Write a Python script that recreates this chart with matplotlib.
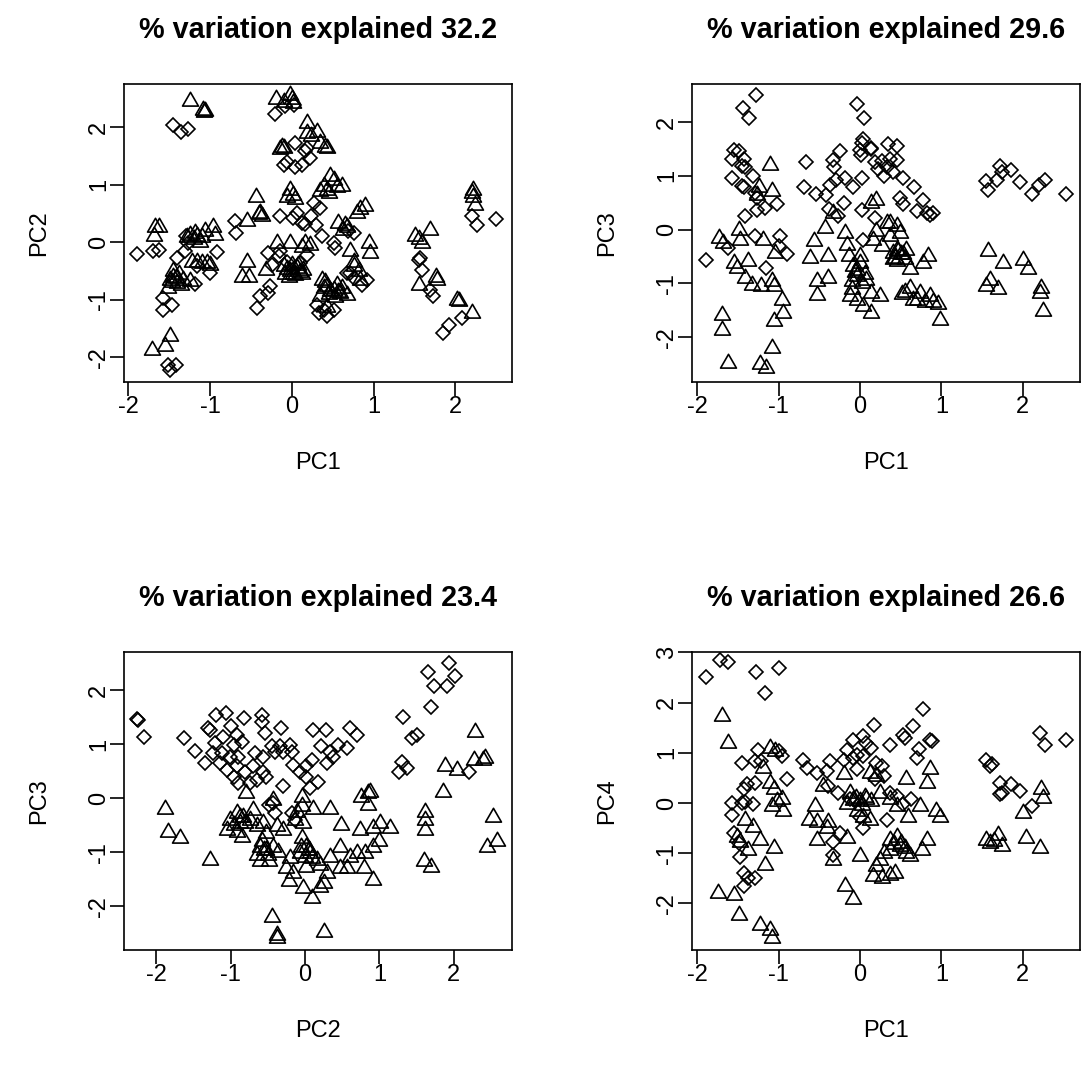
import numpy as np
import matplotlib.pyplot as plt
from matplotlib.path import Path

plt.rcParams['font.family'] = ['Liberation Sans', 'DejaVu Sans']
plt.rcParams['axes.unicode_minus'] = False

titles = ['% variation explained 32.2', '% variation explained 29.6',
          '% variation explained 23.4', '% variation explained 26.6']
x_labels = ['PC1', 'PC1', 'PC2', 'PC1']
y_labels = ['PC2', 'PC3', 'PC3', 'PC4']

# PC1 vs PC2
p1_tri = [(-1.25, 2.46), (-1.09, 2.29), (-1.08, 2.26), (-1.06, 2.27),
          (-0.19, 2.48), (-0.02, 2.56), (0.00, 2.48), (-0.10, 2.43), (0.02, 2.41),
          (0.18, 2.07), (0.31, 1.92), (0.18, 1.90), (0.43, 1.63), (0.35, 1.72), (-0.12, 1.66),
          (-0.15, 1.61), (-0.10, 1.63), (0.24, 1.85), (0.40, 1.66),
          (0.47, 1.14), (0.39, 0.97), (0.35, 0.88), (0.61, 0.97), (0.51, 1.08), (0.45, 0.85),
          (-0.02, 0.91), (-0.06, 0.79), (0.02, 0.82), (0.04, 0.74), (0.43, 0.90), (0.55, 0.95),
          (-0.44, 0.78), (-0.55, 0.36), (-0.39, 0.50), (-0.37, 0.45), (-0.40, 0.48),
          (0.84, 0.57), (0.90, 0.62), (0.80, 0.50), (0.56, 0.33), (0.67, 0.27), (0.63, 0.21), (0.65, 0.30),
          (2.22, 0.91), (2.22, 0.79), (2.24, 0.65), (2.21, 0.85),
          (-1.67, 0.27), (-1.62, 0.27), (-1.69, 0.10),
          (-1.24, 0.13), (-1.16, 0.10), (-1.06, 0.19), (-0.96, 0.27), (-0.94, 0.13), (-1.12, 0.01),
          (-1.20, 0.05), (-1.10, 0.08), (-1.28, 0.08), (-1.18, 0.15),
          (-1.22, -0.34), (-1.16, -0.34), (-1.10, -0.37), (-1.04, -0.37), (-1.00, -0.39),
          (-1.45, -0.51), (-1.49, -0.66), (-1.41, -0.71), (-1.33, -0.66), (-1.24, -0.68), (-1.51, -0.80),
          (-1.45, -0.60), (-1.38, -0.55), (-1.42, -0.62), (-1.36, -0.74), (-1.47, -0.70),
          (-1.49, -1.64), (-1.55, -1.81), (-1.71, -1.87),
          (-0.55, -0.35), (-0.61, -0.60), (-0.53, -0.60), (-0.31, -0.48),
          (-0.18, -0.02), (-0.02, -0.02), (0.16, -0.02), (0.12, -0.08), (0.22, -0.05),
          (-0.10, -0.42), (-0.02, -0.51), (0.06, -0.45), (0.14, -0.48), (-0.04, -0.60), (0.02, -0.55),
          (0.10, -0.52), (0.00, -0.40), (-0.06, -0.47), (0.04, -0.58), (0.08, -0.40), (-0.08, -0.55),
          (0.12, -0.56),
          (0.71, -0.16), (0.76, -0.34), (0.94, -0.01), (0.96, -0.19), (0.82, -0.51), (0.84, -0.66),
          (0.37, -0.66), (0.43, -0.77), (0.51, -0.83), (0.59, -0.89), (0.67, -0.92), (0.35, -0.94),
          (0.43, -1.12), (0.55, -0.74), (0.47, -0.85), (0.39, -0.80), (0.61, -0.80), (0.76, -0.42),
          (0.45, -0.90), (0.53, -0.95), (0.41, -0.70), (0.57, -0.86),
          (1.51, 0.10), (1.59, -0.01), (1.69, 0.21), (1.55, 0.05),
          (1.55, -0.74), (1.76, -0.60), (1.78, -0.66),
          (2.02, -1.00), (2.04, -1.03), (2.20, -1.23)]
p1_dia = [(-1.45, 2.03), (-1.36, 1.92), (-1.27, 1.97),
          (-0.20, 2.23), (-0.08, 2.36), (0.03, 2.38),
          (0.04, 1.73), (0.16, 1.58), (0.22, 1.46), (-0.06, 1.40), (0.04, 1.30), (-0.10, 1.34),
          (0.13, 1.34), (0.18, 1.63),
          (0.27, 0.68), (0.35, 0.59), (0.24, 0.45), (-0.15, 0.45), (0.06, 0.50), (0.12, 0.33),
          (0.02, 0.42), (0.29, 0.30), (0.16, 0.32),
          (-0.69, 0.36), (-0.68, 0.16), (0.76, 0.16), (0.69, 0.19),
          (2.20, 0.45), (2.26, 0.29), (2.50, 0.40),
          (-1.90, -0.20), (-1.70, -0.16), (-1.63, -0.14),
          (-1.29, 0.10), (-1.27, -0.02), (-0.92, -0.18), (-1.40, -0.28), (-1.31, -0.16),
          (-1.00, -0.54), (-1.16, -0.42),
          (-1.18, -0.72), (-1.58, -0.97), (-1.47, -1.09), (-1.57, -1.18),
          (-1.51, -2.13), (-1.42, -2.13), (-1.49, -2.22),
          (-0.29, -0.19), (-0.16, -0.25), (-0.39, -0.94), (-0.29, -0.89), (-0.27, -0.77), (-0.43, -1.15),
          (-0.14, -0.16), (-0.24, -0.39), (0.18, -0.22), (-0.06, -0.34), (0.10, -0.37),
          (0.37, 0.10), (0.51, -0.02), (0.53, -0.10),
          (0.71, -0.54), (0.76, -0.63), (0.92, -0.66), (0.86, -0.74),
          (0.31, -1.09), (0.39, -1.18), (0.51, -1.18), (0.33, -1.23), (0.43, -1.29), (0.67, -0.54),
          (1.57, -0.28), (1.59, -0.48), (1.55, -0.31), (1.69, -0.83), (1.73, -0.94),
          (2.08, -1.32), (1.92, -1.44), (1.85, -1.58)]

# PC1 vs PC3
p2_tri = [(-1.10, 1.21), (-1.24, 0.80), (-1.08, 0.71), (-1.27, 0.65),
          (-1.73, -0.15), (-1.68, -0.25), (-1.49, 0.00), (-1.47, -0.19), (-1.19, -0.19), (-1.04, -0.43),
          (-1.55, -0.62), (-1.37, -0.59), (-1.51, -0.71), (-1.41, -0.90), (-1.33, -1.02), (-1.21, -1.05),
          (-1.08, -0.96), (-1.06, -1.05), (-0.96, -1.30), (-0.94, -1.55), (-1.06, -1.70),
          (-1.69, -1.58), (-1.70, -1.86), (-1.08, -2.20), (-1.62, -2.47), (-1.23, -2.50), (-1.15, -2.58),
          (-0.43, 0.03), (-0.57, -0.22), (-0.61, -0.53), (-0.39, -0.49), (-0.53, -0.96), (-0.39, -0.90),
          (-0.53, -1.21),
          (-0.33, 0.31), (-0.18, -0.06), (-0.16, -0.28), (-0.14, -0.49), (0.00, -0.49), (-0.08, -0.68),
          (-0.04, -0.87), (0.02, -0.99), (-0.12, -1.24), (-0.04, -1.30), (0.08, -0.93), (0.14, -1.18),
          (0.25, -1.24), (0.14, -1.55), (0.04, -1.42), (-0.06, -0.78), (-0.10, -1.10),
          (0.00, -0.62), (-0.04, -0.75), (0.06, -0.83), (-0.10, -0.95),
          (0.20, 0.56), (0.14, 0.49), (0.33, 0.12), (0.20, -0.03), (0.16, -0.19), (0.27, -0.31),
          (0.37, -0.12), (0.41, -0.43), (0.45, -0.59), (0.53, -0.46), (0.57, -0.37), (0.61, -0.74),
          (0.61, -1.08), (0.65, -1.30), (0.74, -1.18), (0.84, -0.49), (0.78, -0.62), (0.86, -1.24),
          (0.96, -1.39), (0.98, -1.67), (0.37, 0.12), (0.45, 0.06), (0.49, -0.06), (0.47, -0.40),
          (0.43, -0.52), (0.55, -1.15), (0.90, -1.35),
          (0.50, -0.45), (0.45, -0.38), (0.40, -0.55), (0.55, -0.55), (0.52, -1.20), (0.70, -1.30),
          (0.80, -1.35),
          (1.57, -0.40), (1.76, -0.62), (2.00, -0.56), (2.07, -0.74), (1.60, -0.93), (1.55, -1.05),
          (1.70, -1.11), (2.23, -1.08), (2.21, -1.18), (2.25, -1.52)]
p2_dia = [(-1.28, 2.50), (-1.44, 2.26), (-1.36, 2.07), (-0.04, 2.34), (0.05, 2.07),
          (0.04, 1.68), (0.13, 1.50), (0.02, 1.61), (0.00, 1.48), (0.01, 1.39), (0.14, 1.52),
          (-0.25, 1.47), (-0.33, 1.30), (-0.32, 1.16), (-0.66, 1.25),
          (0.35, 1.60), (0.45, 1.55), (0.18, 1.25), (0.27, 1.27), (0.37, 1.31), (0.45, 1.30),
          (0.22, 1.13), (0.29, 0.99), (0.41, 1.08), (0.53, 0.96), (0.33, 1.16),
          (-1.55, 1.48), (-1.48, 1.47), (-1.57, 1.31), (-1.43, 1.31), (-1.41, 1.16), (-1.45, 1.19),
          (-1.57, 0.96), (-1.45, 0.82), (-1.43, 0.80), (-1.31, 0.99), (-1.29, 0.68), (-1.27, 0.59),
          (-1.17, 0.40), (-1.02, 0.48), (-1.27, 0.37), (-1.41, 0.26),
          (-0.69, 0.79), (-0.54, 0.66), (-0.42, 0.65), (-0.29, 0.93), (-0.37, 0.83), (-0.18, 0.96),
          (-0.08, 0.80), (0.02, 0.96), (0.03, 0.37), (-0.20, 0.49), (-0.38, 0.38), (-0.27, 0.25),
          (0.66, 0.79), (0.49, 0.59), (0.78, 0.56), (0.53, 0.48), (0.70, 0.34), (0.82, 0.31),
          (0.90, 0.31), (0.86, 0.28), (0.18, 0.22), (0.04, -0.19),
          (-0.98, -0.11), (-0.90, -0.45), (-1.00, -0.31), (-1.15, -0.71), (-1.62, -0.34), (-1.89, -0.57),
          (-1.29, -0.11),
          (1.72, 1.19), (1.86, 1.11), (1.55, 0.90), (1.57, 0.74), (1.68, 0.93), (1.96, 0.88),
          (2.11, 0.67), (2.20, 0.83), (2.27, 0.93), (2.53, 0.67), (1.74, 1.08)]

# PC2 vs PC3
p3_tri = [(2.29, 1.22), (1.88, 0.59), (2.04, 0.52), (2.27, 0.71), (2.42, 0.74), (2.40, 0.71),
          (1.85, 0.12), (2.53, -0.34), (2.45, -0.90), (2.58, -0.80),
          (1.62, -0.25), (1.62, -0.40), (1.62, -0.59), (1.60, -1.17), (1.70, -1.27),
          (-1.88, -0.19), (-1.84, -0.62), (-1.68, -0.74), (-1.28, -1.15),
          (-0.79, 0.09), (-1.01, -0.40), (-0.92, -0.28), (-0.83, -0.34), (-0.74, -0.40), (-1.05, -0.59),
          (-0.92, -0.62), (-0.85, -0.71), (-0.65, -0.52), (-0.52, -0.65), (-0.56, -0.46), (-0.70, -0.22),
          (-0.43, -0.03), (-0.38, -0.52), (-0.29, -0.59), (-0.61, -0.90), (-0.52, -0.96), (-0.65, -1.05),
          (-0.61, -1.17), (-0.49, -1.17), (-0.43, -0.90), (-0.36, -0.99), (-0.88, -0.45), (-0.58, -0.80),
          (-0.88, -0.35), (-0.80, -0.45), (-0.95, -0.50), (-0.55, -0.95), (-0.50, -1.05),
          (-0.04, 0.03), (-0.11, -0.25), (-0.04, -0.15), (0.11, -0.19), (0.34, -0.19), (0.49, -0.49),
          (-0.13, -0.40), (-0.02, -0.46), (-0.04, -0.74), (0.02, -0.90), (-0.07, -1.02), (0.07, -1.02),
          (0.16, -1.14), (0.02, -1.27), (0.20, -1.23), (-0.20, -1.11), (-0.25, -1.30), (-0.16, -1.39),
          (-0.22, -1.54), (-0.02, -1.67), (0.09, -1.85), (0.20, -1.64), (0.25, -1.57), (0.29, -1.39),
          (0.34, -1.08), (0.47, -0.90), (0.61, -1.08), (0.70, -1.02), (0.81, -1.02), (0.56, -1.30),
          (0.47, -1.30), (0.79, -1.30), (0.92, -1.51), (0.06, -0.96), (0.10, -1.10),
          (0.00, -1.08), (0.05, -0.95), (-0.05, -0.90),
          (0.74, -0.59), (0.92, -0.56), (1.01, -0.46), (1.14, -0.56), (0.99, -0.80), (0.92, -0.90),
          (0.85, 0.09), (0.87, 0.12), (0.76, 0.03), (0.85, -0.12),
          (-0.45, -2.19), (-0.38, -2.53), (-0.38, -2.58), (0.25, -2.47)]
p3_dia = [(1.94, 2.50), (1.65, 2.33), (2.02, 2.27), (1.73, 2.08), (1.91, 2.07), (1.70, 1.69),
          (1.32, 1.50), (1.44, 1.11), (1.51, 1.17), (1.30, 0.68), (1.37, 0.56), (1.27, 0.48), (2.20, 0.48),
          (-2.26, 1.46), (-2.25, 1.45), (-2.17, 1.14),
          (-1.62, 1.11), (-1.48, 0.88), (-1.35, 0.66),
          (-1.28, 1.27), (-1.19, 1.54), (-1.06, 1.57), (-1.30, 1.30), (-0.99, 1.33), (-0.92, 1.17),
          (-0.82, 1.48), (-0.58, 1.54), (-0.58, 1.42), (-0.54, 1.20), (-0.32, 1.30),
          (-1.21, 1.02), (-1.10, 1.14), (-0.96, 0.99), (-0.85, 1.05), (-1.23, 0.83), (-1.12, 0.83),
          (-1.01, 0.77), (-0.90, 0.77), (-1.14, 0.65), (-1.05, 0.52), (-0.92, 0.59), (-0.81, 0.49),
          (-0.70, 0.59), (-0.56, 0.49), (-0.96, 0.40), (-0.90, 0.28), (-0.74, 0.28), (-0.65, 0.34),
          (-0.29, 0.22), (-0.52, 0.40),
          (-0.67, 0.83), (-0.56, 0.77), (-0.45, 0.96), (-0.34, 0.96), (-0.20, 0.99), (-0.29, 0.86),
          (-0.18, 0.86), (-0.40, 0.86),
          (0.11, 1.27), (0.28, 1.27), (0.61, 1.30), (0.70, 1.17), (0.22, 0.96), (0.34, 0.86),
          (0.45, 0.99), (0.56, 0.93), (0.38, 0.77), (0.29, 0.65), (-0.16, 0.62), (-0.07, 0.49),
          (0.02, 0.40), (0.09, 0.71), (0.18, 0.31), (0.07, 0.19), (0.02, 0.59),
          (-0.49, -0.12), (-0.43, -0.09), (-0.18, -0.28), (-0.40, -0.28), (-0.13, -0.40)]

# PC1 vs PC4
p4_tri = [(-1.69, 1.73), (-1.62, 1.20),
          (-1.19, 0.70), (-1.10, 1.10), (-1.04, 1.03), (-1.10, 0.40), (-1.06, 0.27), (-1.08, -0.07),
          (-0.96, 0.07), (-0.94, -0.17), (-1.02, 0.03),
          (-1.41, -0.33), (-1.31, -0.47), (-1.51, -0.67), (-1.47, -0.77), (-1.37, -0.93), (-1.23, -0.73),
          (-1.06, -0.90), (-1.17, -1.23), (-1.74, -1.80), (-1.55, -1.83), (-1.48, -2.23), (-1.23, -2.43),
          (-1.10, -2.53), (-1.08, -2.69),
          (-0.45, 0.33), (-0.55, -0.07), (-0.63, -0.33), (-0.53, -0.37), (-0.39, -0.37), (-0.41, -0.50),
          (-0.53, -0.73), (-0.33, -1.13), (-0.16, -0.70), (-0.18, -1.66), (-0.08, -1.92),
          (-0.20, 0.57), (-0.12, 0.20), (0.00, 0.03), (-0.16, -0.03), (0.12, 0.60), (0.20, 0.53),
          (-0.04, -0.17), (0.04, -0.27), (0.12, -0.33), (0.14, 0.03), (0.37, 0.07), (0.45, -0.07),
          (0.57, 0.47), (0.86, 0.67), (0.82, 0.40), (0.74, -0.07), (0.94, -0.17), (0.98, -0.27),
          (0.59, -0.27), (0.82, -0.73), (0.76, -0.93), (0.06, 0.12), (-0.08, 0.05), (0.25, 0.20),
          (0.02, -0.05), (0.08, 0.08), (-0.05, 0.10),
          (0.37, -0.73), (0.45, -0.67), (0.49, -0.86), (0.57, -1.00), (0.61, -1.06), (0.37, -0.93),
          (0.29, -1.00), (0.00, -1.06), (0.20, -1.26), (0.16, -1.46), (0.27, -1.50), (0.37, -1.43),
          (0.43, -1.40), (0.25, -1.13), (0.50, -0.80), (0.55, -0.90), (0.42, -0.82),
          (2.23, 0.27), (2.25, 0.10), (2.00, -0.20), (1.55, -0.73), (1.70, -0.63), (1.74, -0.86),
          (2.04, -0.70), (2.21, -0.90), (1.60, -0.80), (1.65, -0.75)]
p4_dia = [(-1.89, 2.50), (-1.72, 2.85), (-1.62, 2.81), (-1.28, 2.61), (-1.00, 2.69), (-1.17, 2.20),
          (0.78, 1.88), (0.17, 1.56), (0.65, 1.53), (0.53, 1.36), (0.55, 1.30), (0.86, 1.26),
          (0.89, 1.23), (0.37, 1.16), (0.73, 1.08), (0.70, 0.90), (-0.08, 1.26), (0.04, 1.33),
          (0.08, 1.20), (0.14, 1.10), (-0.16, 1.06), (-0.04, 0.96), (0.04, 0.93),
          (-1.25, 1.06), (-1.29, 0.83), (-1.45, 0.79), (-1.21, 0.83), (-1.00, 1.03), (-0.96, 0.93),
          (-0.90, 0.47), (-1.29, 0.40), (-1.39, 0.37), (-1.43, 0.27), (-1.57, 0.00), (-1.45, 0.00),
          (-1.41, 0.01), (-1.31, -0.03), (-1.57, -0.23),
          (-0.70, 0.86), (-0.65, 0.70), (-0.53, 0.59), (-0.41, 0.63), (-0.37, 0.83), (-0.20, 0.86),
          (-0.08, 0.90), (-0.04, 0.67), (-0.39, 0.33), (-0.27, 0.20), (-0.12, 0.07),
          (0.20, 0.80), (0.27, 0.73), (0.29, 0.53), (0.18, 0.47), (0.37, 0.20), (0.45, 0.13),
          (0.53, -0.03), (0.63, 0.07), (0.33, -0.33), (0.04, -0.50), (0.00, -0.27), (-0.25, -0.60),
          (-0.33, -0.77), (-0.33, -1.03),
          (-1.55, -0.60), (-1.49, -0.80), (-1.47, -1.08), (-1.43, -1.40), (-1.37, -1.50), (-1.29, -1.50),
          (-1.43, -1.66),
          (1.55, 0.86), (1.62, 0.77), (1.60, 0.73), (1.72, 0.40), (1.86, 0.37), (1.74, 0.20),
          (1.72, 0.17), (1.96, 0.23), (2.11, -0.07), (2.21, 1.40), (2.27, 1.16), (2.53, 1.25)]

triangles = [p1_tri, p2_tri, p3_tri, p4_tri]
diamonds = [p1_dia, p2_dia, p3_dia, p4_dia]

x_limits = [(-2.05, 2.69), (-2.06, 2.70), (-2.43, 2.78), (-2.06, 2.70)]
y_limits = [(-2.43, 2.75), (-2.83, 2.71), (-2.81, 2.71), (-2.93, 3.01)]
y_ticks = [range(-2, 3), range(-2, 3), range(-2, 3), range(-2, 4)]

# equilateral triangle like R's pch=2
tri_marker = Path([(0.0, 1.0), (-0.866, -0.5), (0.866, -0.5), (0.0, 1.0)], closed=True)

fig = plt.figure(figsize=(10.89, 10.69), dpi=100)
boxes = [[0.1141, 0.6427, 0.3558, 0.2789],
         [0.6357, 0.6427, 0.3558, 0.2789],
         [0.1141, 0.1113, 0.3558, 0.2789],
         [0.6357, 0.1113, 0.3558, 0.2789]]

for i in range(4):
    ax = fig.add_axes(boxes[i])
    tri = np.array(triangles[i])
    dia = np.array(diamonds[i])
    ax.plot(dia[:, 0], dia[:, 1], linestyle='none', marker='D', markersize=7,
            markerfacecolor='none', markeredgecolor='black', markeredgewidth=1.2)
    ax.plot(tri[:, 0], tri[:, 1], linestyle='none', marker=tri_marker, markersize=13.2,
            markerfacecolor='none', markeredgecolor='black', markeredgewidth=1.2)

    ax.set_xlim(x_limits[i])
    ax.set_ylim(y_limits[i])
    ax.set_xticks(range(-2, 3))
    ax.set_yticks(list(y_ticks[i]))
    ax.tick_params(direction='out', length=10.4, width=1.2, labelsize=17, pad=0,
                   top=False, right=False)
    ax.tick_params(axis='y', labelrotation=90)
    for lab in ax.get_yticklabels():
        lab.set_va('center')
    for sp in ax.spines.values():
        sp.set_linewidth(1.2)

    ax.set_xlabel(x_labels[i], fontsize=17)
    ax.set_ylabel(y_labels[i], fontsize=17)
    ax.xaxis.label.set_va('center')
    ax.yaxis.label.set_va('center')
    ax.xaxis.set_label_coords(0.5, -0.272)
    ax.yaxis.set_label_coords(-0.22, 0.5)
    ax.text(0.5, 1.181, titles[i], transform=ax.transAxes, ha='center', va='center',
            fontsize=20.7, fontweight='bold')

fig.savefig('out.png', dpi=100)
